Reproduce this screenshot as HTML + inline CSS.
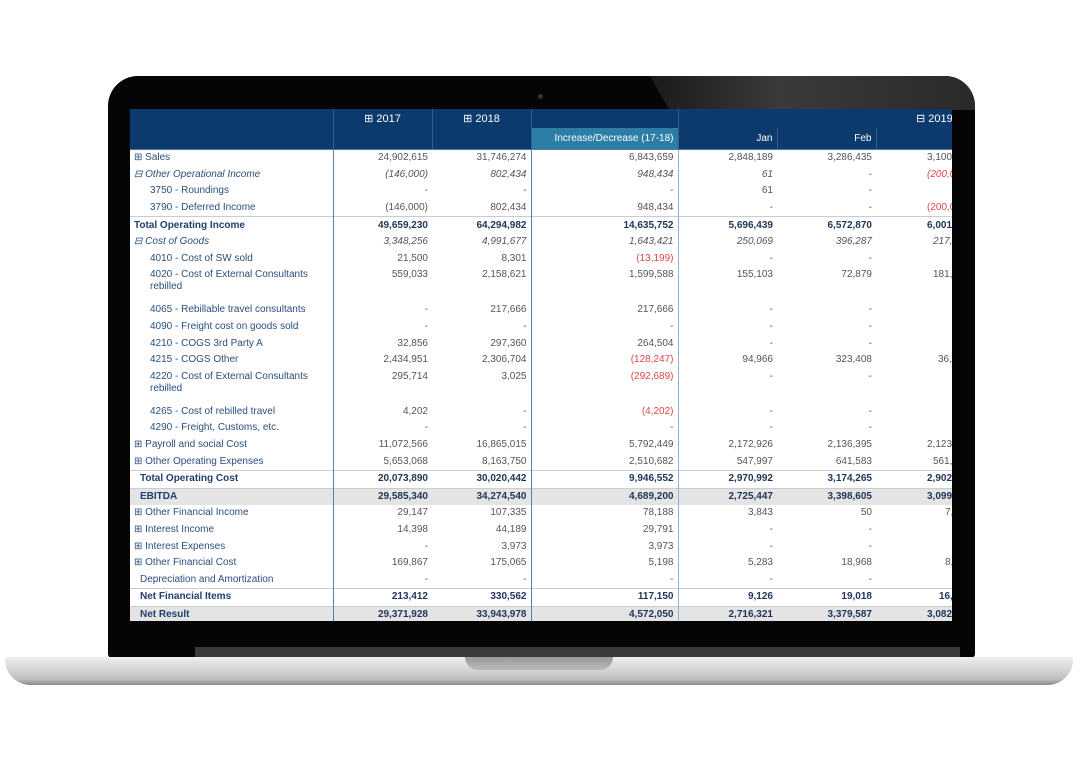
<!DOCTYPE html>
<html><head><meta charset="utf-8"><style>
body{margin:0;width:1080px;height:767px;background:#fff;position:relative;overflow:hidden;font-family:"Liberation Sans",sans-serif}
.bezel{position:absolute;left:108px;top:76px;width:867px;height:582px;background:#050505;border-radius:30px 30px 4px 4px}
.refl{position:absolute;left:650px;top:76px;width:325px;height:34px;background:linear-gradient(90deg,#1a1a1a,#3a3a3a 40%,#2a2a2a);border-radius:0 30px 0 0;clip-path:polygon(0 0,100% 0,100% 100%,6% 100%)}
.cam{position:absolute;left:538px;top:94px;width:5px;height:5px;border-radius:50%;background:#333}
.strip{position:absolute;left:195px;top:647px;width:765px;height:10px;background:#3a3a3a}
.base{position:absolute;left:5px;top:657px;width:1068px;height:28px;background:linear-gradient(#eee,#d8d8d8 40%,#bdbdbd 80%,#888);border-radius:3px 3px 30px 30px}
.notch{position:absolute;left:465px;top:657px;width:148px;height:13px;background:linear-gradient(#999,#bbb);border-radius:0 0 14px 14px}
.screen{position:absolute;left:130px;top:109px;width:822px;height:512px;background:#fff;overflow:hidden}
table{border-collapse:collapse;table-layout:fixed;font-size:10px;width:845px}
td{padding:0 4px;white-space:nowrap;overflow:hidden;height:16.6px;line-height:12px;text-align:right;color:#555}
td:last-child{text-align:left;padding-left:51px}
td.l{text-align:left;color:#2a4f7e;border-right:1px solid #5a7fa6}
td.c2{border-right:1px solid #5a7fa6}
td.c3{border-right:1px solid #8fb3d0}
tr.h td{background:#0c3a6c;color:#fff;height:19px;font-size:11px;border-right:1px solid #2f5d8e}
tr.h2 td{height:21px;border-bottom:1px solid #4b7aa8}
td.teal{background:#2c7ea6!important}
.i td{font-style:italic}
.b td{font-weight:bold;color:#1f3558;border-top:1px solid #ccc}
.b td.l{color:#1f3f6e}
.g td{background:#e4e4e4}
.r{color:#e04545!important}
.ind{padding-left:20px}
.two td{height:33px;vertical-align:top;padding-top:2px}
</style></head><body>
<div class="bezel"></div><div class="refl"></div><div class="cam"></div>
<div class="screen"><table>
<colgroup><col style="width:203px"><col style="width:99px"><col style="width:99px"><col style="width:147px"><col style="width:99px"><col style="width:99px"><col style="width:99px"></colgroup>
<tr class="h"><td class="l"></td><td style="text-align:center">⊞ 2017</td><td style="text-align:center">⊞ 2018</td><td></td><td style="border-right:none"></td><td style="border-right:none"></td><td style="padding-left:40px">⊟ 2019</td></tr>
<tr class="h h2"><td class="l"></td><td></td><td></td><td class="teal" style="font-size:10px">Increase/Decrease (17-18)</td><td style="font-size:10px">Jan</td><td style="font-size:10px">Feb</td><td></td></tr>
<tr><td class="l">⊞ Sales</td><td>24,902,615</td><td class="c2">31,746,274</td><td class="c3">6,843,659</td><td>2,848,189</td><td>3,286,435</td><td>3,100,512</td></tr>
<tr class="i"><td class="l">⊟ Other Operational Income</td><td>(146,000)</td><td class="c2">802,434</td><td class="c3">948,434</td><td>61</td><td>-</td><td class="r">(200,000)</td></tr>
<tr><td class="l ind">3750 - Roundings</td><td>-</td><td class="c2">-</td><td class="c3">-</td><td>61</td><td>-</td><td></td></tr>
<tr><td class="l ind">3790 - Deferred Income</td><td>(146,000)</td><td class="c2">802,434</td><td class="c3">948,434</td><td>-</td><td>-</td><td class="r">(200,000)</td></tr>
<tr class="b"><td class="l">Total Operating Income</td><td>49,659,230</td><td class="c2">64,294,982</td><td class="c3">14,635,752</td><td>5,696,439</td><td>6,572,870</td><td>6,001,284</td></tr>
<tr class="i"><td class="l">⊟ Cost of Goods</td><td>3,348,256</td><td class="c2">4,991,677</td><td class="c3">1,643,421</td><td>250,069</td><td>396,287</td><td style="padding-left:57px">217,415</td></tr>
<tr><td class="l ind">4010 - Cost of SW sold</td><td>21,500</td><td class="c2">8,301</td><td class="c3 r">(13,199)</td><td>-</td><td>-</td><td></td></tr>
<tr class="two"><td class="l ind" style="white-space:normal">4020 - Cost of External Consultants rebilled</td><td>559,033</td><td class="c2">2,158,621</td><td class="c3">1,599,588</td><td>155,103</td><td>72,879</td><td style="padding-left:57px">181,220</td></tr>
<tr><td class="l ind">4065 - Rebillable travel consultants</td><td>-</td><td class="c2">217,666</td><td class="c3">217,666</td><td>-</td><td>-</td><td></td></tr>
<tr><td class="l ind">4090 - Freight cost on goods sold</td><td>-</td><td class="c2">-</td><td class="c3">-</td><td>-</td><td>-</td><td></td></tr>
<tr><td class="l ind">4210 - COGS 3rd Party A</td><td>32,856</td><td class="c2">297,360</td><td class="c3">264,504</td><td>-</td><td>-</td><td></td></tr>
<tr><td class="l ind">4215 - COGS Other</td><td>2,434,951</td><td class="c2">2,306,704</td><td class="c3 r">(128,247)</td><td>94,966</td><td>323,408</td><td style="padding-left:62px">36,195</td></tr>
<tr class="two"><td class="l ind" style="white-space:normal">4220 - Cost of External Consultants rebilled</td><td>295,714</td><td class="c2">3,025</td><td class="c3 r">(292,689)</td><td>-</td><td>-</td><td></td></tr>
<tr><td class="l ind">4265 - Cost of rebilled travel</td><td>4,202</td><td class="c2">-</td><td class="c3 r">(4,202)</td><td>-</td><td>-</td><td></td></tr>
<tr><td class="l ind">4290 - Freight, Customs, etc.</td><td>-</td><td class="c2">-</td><td class="c3">-</td><td>-</td><td>-</td><td></td></tr>
<tr><td class="l">⊞ Payroll and social Cost</td><td>11,072,566</td><td class="c2">16,865,015</td><td class="c3">5,792,449</td><td>2,172,926</td><td>2,136,395</td><td>2,123,410</td></tr>
<tr><td class="l">⊞ Other Operating Expenses</td><td>5,653,068</td><td class="c2">8,163,750</td><td class="c3">2,510,682</td><td>547,997</td><td>641,583</td><td style="padding-left:57px">561,302</td></tr>
<tr class="b"><td class="l ind" style="padding-left:10px">Total Operating Cost</td><td>20,073,890</td><td class="c2">30,020,442</td><td class="c3">9,946,552</td><td>2,970,992</td><td>3,174,265</td><td>2,902,142</td></tr>
<tr class="b g"><td class="l" style="padding-left:10px">EBITDA</td><td>29,585,340</td><td class="c2">34,274,540</td><td class="c3">4,689,200</td><td>2,725,447</td><td>3,398,605</td><td>3,099,142</td></tr>
<tr><td class="l">⊞ Other Financial Income</td><td>29,147</td><td class="c2">107,335</td><td class="c3">78,188</td><td>3,843</td><td>50</td><td style="padding-left:69px">7,421</td></tr>
<tr><td class="l">⊞ Interest Income</td><td>14,398</td><td class="c2">44,189</td><td class="c3">29,791</td><td>-</td><td>-</td><td></td></tr>
<tr><td class="l">⊞ Interest Expenses</td><td>-</td><td class="c2">3,973</td><td class="c3">3,973</td><td>-</td><td>-</td><td></td></tr>
<tr><td class="l">⊞ Other Financial Cost</td><td>169,867</td><td class="c2">175,065</td><td class="c3">5,198</td><td>5,283</td><td>18,968</td><td style="padding-left:69px">8,912</td></tr>
<tr><td class="l" style="padding-left:10px">Depreciation and Amortization</td><td>-</td><td class="c2">-</td><td class="c3">-</td><td>-</td><td>-</td><td></td></tr>
<tr class="b"><td class="l" style="padding-left:10px">Net Financial Items</td><td>213,412</td><td class="c2">330,562</td><td class="c3">117,150</td><td>9,126</td><td>19,018</td><td style="padding-left:63px">16,333</td></tr>
<tr class="b g"><td class="l" style="padding-left:10px;border-bottom:2px solid #9ab">Net Result</td><td style="border-bottom:2px solid #9ab">29,371,928</td><td class="c2" style="border-bottom:2px solid #9ab">33,943,978</td><td class="c3" style="border-bottom:2px solid #9ab">4,572,050</td><td style="border-bottom:2px solid #9ab">2,716,321</td><td style="border-bottom:2px solid #9ab">3,379,587</td><td style="border-bottom:2px solid #9ab">3,082,809</td></tr>
</table></div>
<div class="strip"></div>
<div class="base"></div><div class="notch"></div>
</body></html>
